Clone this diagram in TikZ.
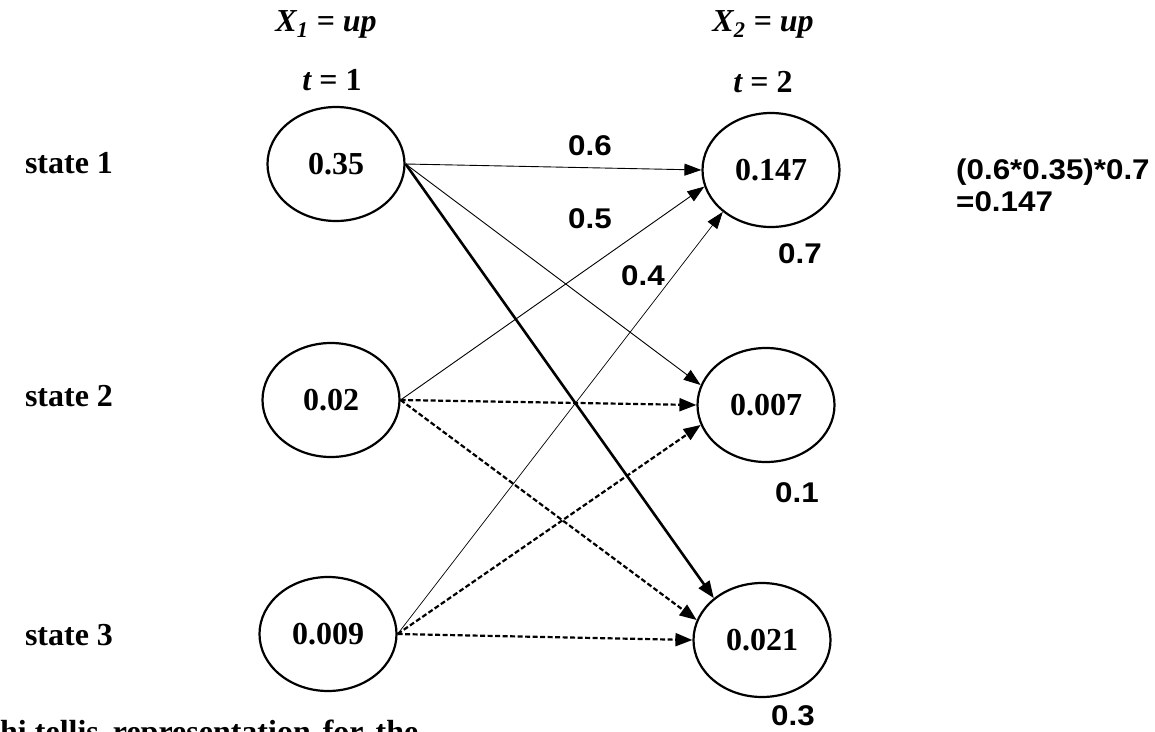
\documentclass[tikz,border=0pt]{standalone}
\usepackage{fontspec}
\setmainfont{Liberation Serif}
\newfontfamily\arialwide[FakeStretch=1.1]{Liberation Sans}
\usetikzlibrary{arrows.meta,shapes.geometric}
\begin{document}
\begin{tikzpicture}[x=1pt,y=-1pt,
  stnode/.style={ellipse,draw,line width=2.2pt,minimum width=137pt,minimum height=114pt,inner sep=0pt,
    font=\fontsize{32}{34}\selectfont\bfseries},
  lbl/.style={font=\fontsize{32}{34}\selectfont\bfseries},
  hdr/.style={font=\fontsize{32}{34}\selectfont\bfseries},
  prob/.style={font=\arialwide\fontsize{28.5}{30}\selectfont\bfseries},
  thinarr/.style={line width=0.9pt,-{Triangle[length=17pt,width=12pt]}},
  thickarr/.style={line width=2.6pt,-{Triangle[length=17pt,width=13pt]}},
  dasharr/.style={line width=2.2pt,dash pattern=on 5pt off 2.5pt,-{Triangle[length=17pt,width=13pt]}}]
\useasboundingbox (0,0) rectangle (1155,731);
\fill[white] (0,0) rectangle (1155,731);
\clip (0,0) rectangle (1155,731);

% headers
\node[hdr] (h1) at (326,24) {\itshape X\textsubscript{1} = up};
\node[hdr] (t1) at (332,80) {{\itshape t} = 1};
\node[hdr] (h2) at (763,24) {\itshape X\textsubscript{2} = up};
\node[hdr] (t2) at (763,82) {{\itshape t} = 2};

% state labels
\node[lbl] (s1) at (69,163) {state 1};
\node[lbl] (s2) at (69,396) {state 2};
\node[lbl] (s3) at (69,635) {state 3};

% nodes
\node[stnode] (a1) at (336,164) {0.35};
\node[stnode] (a2) at (331,400) {0.02};
\node[stnode] (a3) at (328,634) {0.009};
\node[stnode] (b1) at (771,170) {0.147};
\node[stnode] (b2) at (766,405) {0.007};
\node[stnode] (b3) at (762,640) {0.021};

% arrows
\draw[thinarr] (a1.east) -- (b1.180);
\draw[thinarr] (a1.east) -- (b2.163);
\draw[thickarr] (a1.east) -- (b3.139);
\draw[thinarr] (a2.east) -- (b1.194);
\draw[dasharr] (a2.east) -- (b2.180);
\draw[dasharr] (a2.east) -- (b3.163);
\draw[thinarr,line width=0.7pt] (a3.east) -- (b1.221);
\draw[dasharr] (a3.east) -- (b2.197);
\draw[dasharr] (a3.east) -- (b3.180);

% probability labels
\node[prob] (p6) at (590,146) {0.6};
\node[prob] (p5) at (590,219) {0.5};
\node[prob] (p4) at (643,276) {0.4};
\node[prob] (p7) at (800,254) {0.7};
\node[prob] (p1) at (797,493) {0.1};
\node[prob] (p3) at (793,716) {0.3};
\node[prob,anchor=west,inner sep=0pt] (f1) at (956,172) {(0.6*0.35)*0.7};
\node[prob,anchor=west,inner sep=0pt] (f2) at (956,202) {=0.147};

% cut-off text at the bottom
\node[lbl,anchor=base west,inner sep=0pt] (bt) at (0,742) {hi tellis\hspace{6pt} representation\hspace{4pt} for\hspace{4pt} the};
\end{tikzpicture}
\end{document}
